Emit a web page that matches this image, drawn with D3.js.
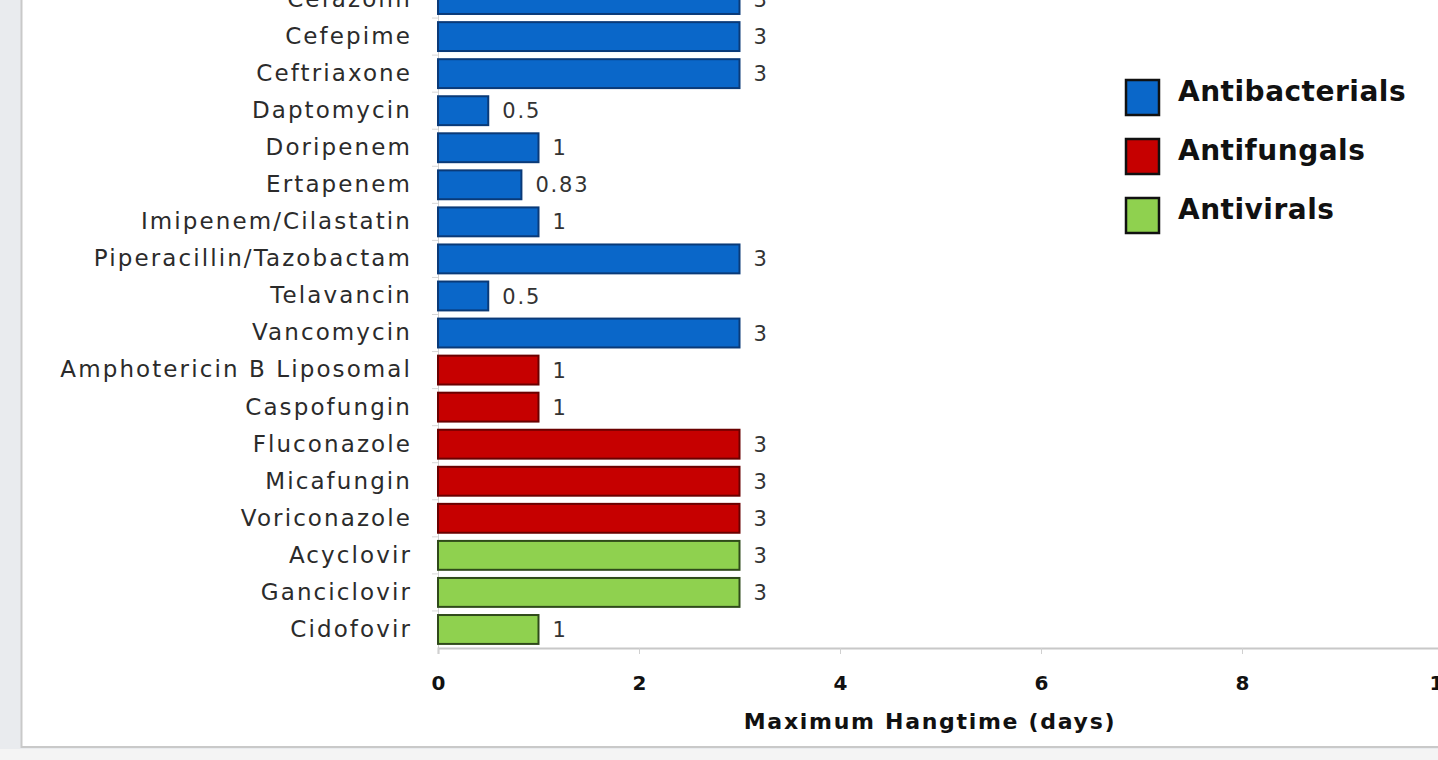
<!DOCTYPE html>
<html>
<head>
<meta charset="utf-8">
<script src="https://cdn.jsdelivr.net/npm/d3@7"></script>
<style>
  body { margin: 0; background: #e9ebee; }
  svg { display: block; }
</style>
</head>
<body>
<svg width="1438" height="760"></svg>
<script>
// drug names, top to bottom
const drugs = [
  "Cefazolin", "Cefepime", "Ceftriaxone", "Daptomycin", "Doripenem", "Ertapenem",
  "Imipenem/Cilastatin", "Piperacillin/Tazobactam", "Telavancin", "Vancomycin",
  "Amphotericin B Liposomal", "Caspofungin", "Fluconazole", "Micafungin", "Voriconazole",
  "Acyclovir", "Ganciclovir", "Cidofovir"
]
// maximum hangtime in days
const hangtime = [3, 3, 3, 0.5, 1, 0.83, 1, 3, 0.5, 3, 1, 1, 3, 3, 3, 3, 3, 1]
const drugClass = [
  "Antibacterials", "Antibacterials", "Antibacterials", "Antibacterials", "Antibacterials",
  "Antibacterials", "Antibacterials", "Antibacterials", "Antibacterials", "Antibacterials",
  "Antifungals", "Antifungals", "Antifungals", "Antifungals", "Antifungals",
  "Antivirals", "Antivirals", "Antivirals"
]
const classes = ["Antibacterials", "Antifungals", "Antivirals"]
const xTicks = [0, 2, 4, 6, 8, 10]

const rows = drugs.map((d, i) => ({ name: d, value: hangtime[i], cls: drugClass[i] }))

const fill = d3.scaleOrdinal().domain(classes).range(["#0a67c9", "#c60000", "#8fd14f"])
const edge = d3.scaleOrdinal().domain(classes).range(["#0a3a78", "#6a0000", "#2f4a1a"])

const svg = d3.select('svg')
const labelFont = "'DejaVu Sans', sans-serif"

// white chart panel with gray border (cropped at top and right)
svg.append("rect")
  .attr("x", 21.5).attr("y", -10)
  .attr("width", 1430).attr("height", 757)
  .attr("fill", "#fff")
  .attr("stroke", "#c9c9c9")
  .attr("stroke-width", 2)
svg.append("rect")
  .attr("x", 0).attr("y", 749).attr("width", 1438).attr("height", 11)
  .attr("fill", "#f4f4f4")

const x = d3.scaleLinear().domain([0, 10]).range([438, 1443])
const y = d3.scaleBand().domain(drugs).range([-19, 648]).paddingInner(0.22).paddingOuter(0.11)

// category axis
const yAxis = svg.append("g")
  .attr("transform", `translate(${x(0)},0)`)
  .call(d3.axisLeft(y).tickSize(0).tickPadding(26))
yAxis.select(".domain").attr("stroke", "#d0d0d0")
yAxis.selectAll("text")
  .attr("font-family", labelFont)
  .attr("font-size", 23)
  .attr("letter-spacing", 2.1)
  .attr("fill", "#2b2b2b")
// small ticks between categories
svg.append("g").selectAll("line")
  .data(drugs)
  .enter().append("line")
    .attr("x1", x(0) - 6).attr("x2", x(0))
    .attr("y1", d => y(d) - y.step() * y.paddingInner() / 2)
    .attr("y2", d => y(d) - y.step() * y.paddingInner() / 2)
    .attr("stroke", "#d8d8d8")

// value axis
const xAxis = svg.append("g")
  .attr("transform", `translate(0,648)`)
  .call(d3.axisBottom(x).tickValues(xTicks).tickSize(6).tickPadding(22))
xAxis.select(".domain").attr("stroke", "#c8c8c8").attr("stroke-width", 2)
xAxis.selectAll(".tick line").attr("stroke", "#d0d0d0")
xAxis.selectAll("text")
  .attr("font-family", labelFont)
  .attr("font-size", 20)
  .attr("font-weight", "bold")
  .attr("fill", "#111")

svg.append("text")
  .attr("x", 930).attr("y", 729)
  .attr("text-anchor", "middle")
  .attr("font-family", labelFont)
  .attr("font-size", 22)
  .attr("font-weight", "bold")
  .attr("letter-spacing", 1.7)
  .attr("fill", "#111")
  .text("Maximum Hangtime (days)")

// bars
svg.append("g").selectAll("rect")
  .data(rows)
  .enter().append("rect")
    .attr("x", x(0))
    .attr("y", d => y(d.name))
    .attr("width", d => x(d.value) - x(0))
    .attr("height", y.bandwidth())
    .attr("fill", d => fill(d.cls))
    .attr("stroke", d => edge(d.cls))
    .attr("stroke-width", 2)

// value labels
svg.append("g").selectAll("text")
  .data(rows)
  .enter().append("text")
    .attr("x", d => x(d.value) + 14)
    .attr("y", d => y(d.name) + y.bandwidth() / 2)
    .attr("dy", "0.36em")
    .attr("font-family", labelFont)
    .attr("font-size", 21)
    .attr("letter-spacing", 1.8)
    .attr("fill", "#333")
    .text(d => d.value)

// legend
const legend = svg.append("g").selectAll("g")
  .data(classes)
  .enter().append("g")
    .attr("transform", (d, i) => `translate(1126,${80 + i * 59})`)
legend.append("rect")
  .attr("width", 33).attr("height", 35)
  .attr("fill", d => fill(d))
  .attr("stroke", "#111")
  .attr("stroke-width", 2.5)
legend.append("text")
  .attr("x", 52).attr("y", 11)
  .attr("dy", "0.36em")
  .attr("font-family", labelFont)
  .attr("font-size", 28)
  .attr("font-weight", "bold")
  .attr("letter-spacing", 0.5)
  .attr("fill", "#111")
  .text(d => d)
</script>
</body>
</html>
